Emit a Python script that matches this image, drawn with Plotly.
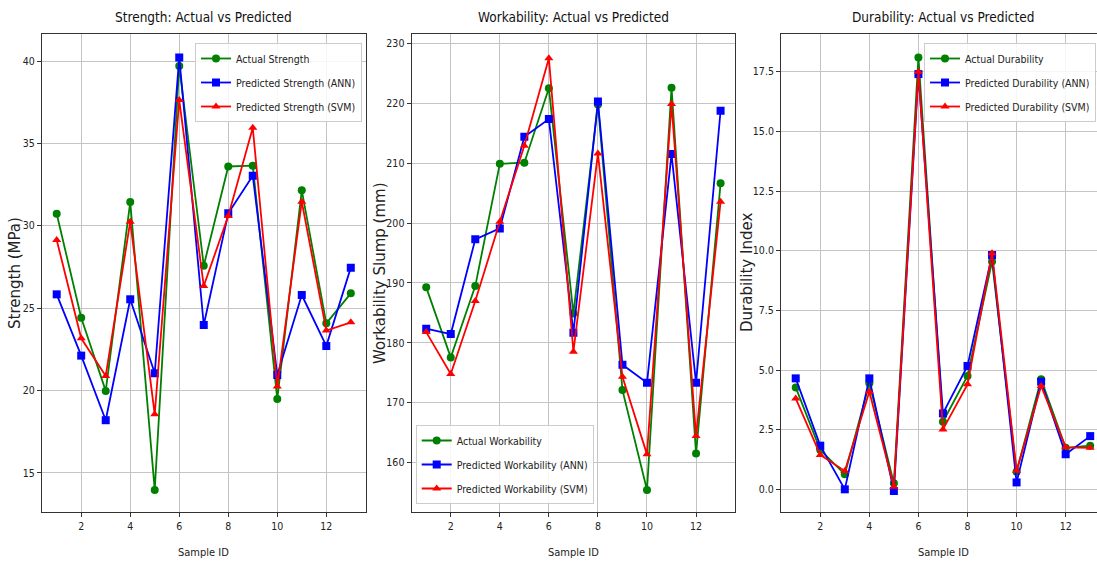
import plotly.graph_objects as go

sample_id = list(range(1, 14))

strength_actual = [30.73, 24.42, 19.98, 31.44, 13.97, 39.7, 27.58, 33.6, 33.65, 19.49, 32.15, 24.08, 25.9]
strength_ann = [25.84, 22.12, 18.2, 25.54, 21.05, 40.22, 23.98, 30.76, 33.04, 20.95, 25.8, 22.71, 27.46]
strength_svm = [29.14, 23.17, 20.89, 30.25, 18.56, 37.63, 26.35, 30.6, 35.95, 20.24, 31.46, 23.64, 24.14]

work_actual = [189.27, 177.58, 189.48, 209.9, 210.07, 222.49, 184.9, 219.8, 172.12, 155.43, 222.6, 161.55, 206.63]
work_ann = [182.36, 181.47, 197.28, 199.11, 214.41, 217.36, 181.69, 220.3, 176.35, 173.34, 211.52, 173.34, 218.75]
work_svm = [181.8, 174.8, 186.98, 200.22, 212.9, 227.5, 178.52, 211.6, 174.34, 161.39, 219.87, 164.44, 203.56]

dur_actual = [4.27, 1.65, 0.63, 4.44, 0.25, 18.1, 2.83, 4.75, 9.55, 0.74, 4.61, 1.74, 1.83]
dur_ann = [4.65, 1.83, 0.0, 4.65, -0.07, 17.4, 3.18, 5.17, 9.82, 0.29, 4.51, 1.47, 2.23]
dur_svm = [3.81, 1.44, 0.77, 4.09, 0.11, 17.5, 2.51, 4.4, 9.89, 0.78, 4.33, 1.76, 1.74]

titles = ["Strength: Actual vs Predicted", "Workability: Actual vs Predicted", "Durability: Actual vs Predicted"]
ylabels = ["Strength (MPa)", "Workability Slump (mm)", "Durability Index"]
names = [
    ["Actual Strength", "Predicted Strength (ANN)", "Predicted Strength (SVM)"],
    ["Actual Workability", "Predicted Workability (ANN)", "Predicted Workability (SVM)"],
    ["Actual Durability", "Predicted Durability (ANN)", "Predicted Durability (SVM)"],
]
series = [
    [strength_actual, strength_ann, strength_svm],
    [work_actual, work_ann, work_svm],
    [dur_actual, dur_ann, dur_svm],
]

NARROW = "Liberation Sans Narrow, DejaVu Sans Condensed, Arial Narrow, sans-serif"
W, H = 1097, 562
colors = ["green", "blue", "red"]
symbols = ["circle", "square", "triangle-up"]

x_dom = [[42 / W, 365.5 / W], [411.5 / W, 735.3 / W], [781 / W, 1.0]]
y_dom = [(562 - 512) / H, (562 - 34) / H]
x_ranges = [[0.4, 13.6], [0.4, 13.6], [0.4, 0.4 + (W - 781) / 24.54]]
y_ranges = [[12.63, 41.64], [151.77, 231.56], [-0.95, 19.08]]
y_dtick = [5, 10, 2.5]
y_fmt = ["", "", ".1f"]
legend_keys = ["legend", "legend2", "legend3"]

fig = go.Figure()
for p in range(3):
    xa = "x" if p == 0 else f"x{p+1}"
    ya = "y" if p == 0 else f"y{p+1}"
    for k in range(3):
        fig.add_trace(go.Scatter(
            x=sample_id, y=series[p][k], name=names[p][k], mode="lines+markers",
            line=dict(color=colors[k], width=1.8),
            marker=dict(color=colors[k], symbol=symbols[k], size=8),
            xaxis=xa, yaxis=ya, legend=legend_keys[p], legendgroup=f"g{p}{k}",
        ))

axis_common = dict(showline=True, linecolor="#333333", linewidth=1, showgrid=True,
                   gridcolor="#c4c4c4", gridwidth=1, ticks="outside", ticklen=4,
                   tickcolor="#333333", zeroline=False,
                   tickfont=dict(family=NARROW, size=10.5, color="#222222"))
layout = dict(width=W, height=H, margin=dict(l=0, r=0, t=0, b=0, autoexpand=False),
              plot_bgcolor="white", paper_bgcolor="white", showlegend=True)
for p in range(3):
    sx = "" if p == 0 else str(p + 1)
    layout[f"xaxis{sx}"] = dict(axis_common, domain=x_dom[p], range=x_ranges[p], dtick=2, tick0=0,
                                anchor=f"y{sx}", mirror=True)
    layout[f"yaxis{sx}"] = dict(axis_common, domain=y_dom, range=y_ranges[p], dtick=y_dtick[p],
                                tickformat=y_fmt[p], anchor=f"x{sx}", mirror=(p < 2))

leg_common = dict(bgcolor="rgba(255,255,255,0.85)", bordercolor="#cccccc", borderwidth=1,
                  font=dict(family=NARROW, size=10.5, color="#222222"), traceorder="grouped",
                  tracegroupgap=5, itemwidth=30)
layout["legend"] = dict(leg_common, x=362 / W, xanchor="right", y=(562 - 43) / H, yanchor="top")
layout["legend2"] = dict(leg_common, x=415.7 / W, xanchor="left", y=(562 - 504) / H, yanchor="bottom")
layout["legend3"] = dict(leg_common, x=1096 / W, xanchor="right", y=(562 - 43) / H, yanchor="top")

ann = []
ylab_x = [15, 380, 747]
for p in range(3):
    cx = (x_dom[p][0] + (x_dom[p][1] if p < 2 else (781 + 324) / W)) / 2
    ann.append(dict(text=titles[p], x=cx, y=(562 - 17) / H, xref="paper", yref="paper",
                    showarrow=False, xanchor="center", yanchor="middle",
                    font=dict(family=NARROW, size=13.5, color="#111111")))
    ann.append(dict(text="Sample ID", x=cx, y=(562 - 552) / H, xref="paper", yref="paper",
                    showarrow=False, xanchor="center", yanchor="middle",
                    font=dict(family=NARROW, size=11, color="#222222")))
    ann.append(dict(text=ylabels[p], x=ylab_x[p] / W, y=(y_dom[0] + y_dom[1]) / 2,
                    xref="paper", yref="paper", showarrow=False, textangle=-90,
                    xanchor="center", yanchor="middle",
                    font=dict(family="DejaVu Sans", size=15, color="#222222")))
layout["annotations"] = ann

fig.update_layout(**layout)
fig.write_html("out.html", config={"displayModeBar": False},
               post_script="document.body.style.margin='0px';")
